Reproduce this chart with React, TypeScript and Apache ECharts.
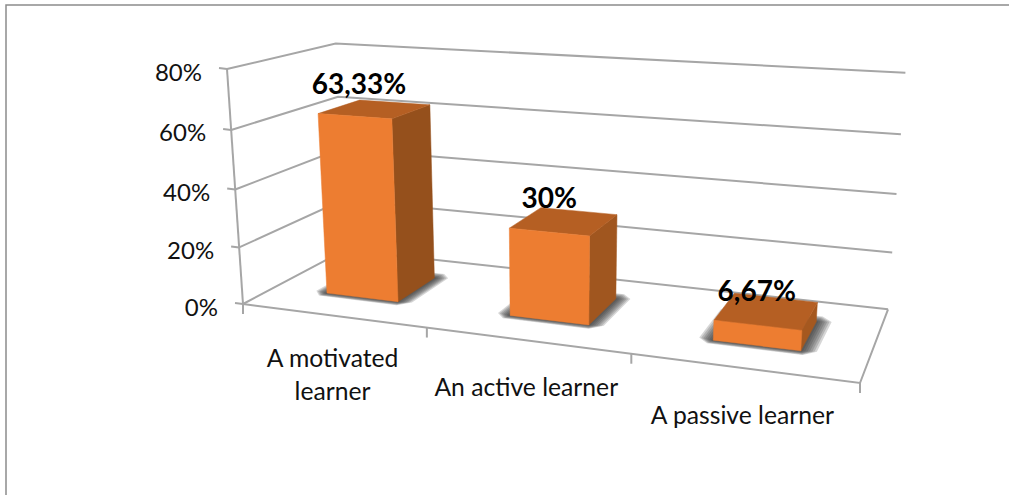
import React, { useEffect, useRef } from "react";
import * as echarts from "echarts";

const categories = ["A motivated\nlearner", "An active learner", "A passive learner"];
const shares = [63.33, 30, 6.67];
const shareLabels = ["63,33%", "30%", "6,67%"];
const axisTicks = [0, 20, 40, 60, 80];
const axisTickLabels = ["0%", "20%", "40%", "60%", "80%"];

type Pt = [number, number];
type Vec3 = [number, number, number];

// Image of the unit box's corners, with per-axis foreshortening weights.
const ORIGIN: Pt = [243, 304];
const END_X: Pt = [860, 383];
const END_DEPTH: Pt = [345, 250];
const END_HEIGHT: Pt = [227, 69];
const WEIGHT_X = 0.849;
const WEIGHT_DEPTH = 1.144;
const WEIGHT_HEIGHT = 0.951;

const COLUMN_DEPTH_FRONT = 0.29;
const COLUMN_DEPTH_BACK = 0.7;

const FONT = "Lato, Carlito, sans-serif";
const GRID_COLOR = "#a6a6a6";
const TEXT_COLOR = "#111111";
const FRONT_COLOR = "#ed7d31";
const TOP_COLOR = "#b55f23";
const SIDE_COLORS = ["#95501c", "#a0561f", "#a5581f"];
const CAPTION_NUDGE: Pt[] = [[-16, -26], [-15, -24], [-10, -21]];

// Projects box coordinates (all 0..1) onto the page through a projective camera.
function project(u: number, v: number, w: number): Pt {
  const col = (p: Pt, k: number): Vec3 => [k * p[0] - ORIGIN[0], k * p[1] - ORIGIN[1], k - 1];
  const cx = col(END_X, WEIGHT_X);
  const cy = col(END_DEPTH, WEIGHT_DEPTH);
  const cz = col(END_HEIGHT, WEIGHT_HEIGHT);
  const X = u * cx[0] + v * cy[0] + w * cz[0] + ORIGIN[0];
  const Y = u * cx[1] + v * cy[1] + w * cz[1] + ORIGIN[1];
  const W = u * cx[2] + v * cy[2] + w * cz[2] + 1;
  return [X / W, Y / W];
}

const line = (points: Pt[], width = 2) => ({
  type: "polyline",
  shape: { points },
  style: { stroke: GRID_COLOR, fill: "none", lineWidth: width },
});

const poly = (points: Pt[], fill: string) => ({
  type: "polygon",
  shape: { points },
  style: { fill, stroke: fill, lineWidth: 0.5 },
});

const label = (text: string, at: Pt, align: string, fontSize: number, fontWeight: string | number = 400) => ({
  type: "text",
  style: {
    text,
    x: at[0],
    y: at[1],
    align,
    verticalAlign: "middle",
    fontFamily: FONT,
    fontSize,
    fontWeight,
    lineHeight: 33,
    fill: fontWeight === 400 ? TEXT_COLOR : "#000000",
  },
});

export default function App() {
  const ref = useRef<HTMLDivElement>(null);

  useEffect(() => {
    document.body.style.margin = "0";
    const chart = echarts.init(ref.current!, null, { renderer: "svg" });

    const heightOf = (api: any, params: any, value: number) => {
      const box = params.coordSys;
      return (box.y + box.height - api.coord([0, value])[1]) / box.height;
    };
    const alongOf = (api: any, params: any, index: number) => {
      const box = params.coordSys;
      return (api.coord([index, 0])[0] - box.x) / box.width;
    };

    chart.setOption({
      animation: false,
      backgroundColor: "#ffffff",
      graphic: [
        {
          type: "polyline",
          shape: { points: [[6, 495], [6, 5], [1009, 5]] },
          style: { stroke: "#8c8c8c", fill: "none", lineWidth: 1.5 },
          silent: true,
        },
      ],
      grid: { left: 0, right: 0, top: 0, bottom: 0 },
      xAxis: { type: "category", data: categories, show: false },
      yAxis: { type: "value", min: 0, max: 80, interval: 20, show: false },
      series: [
        {
          // Walls, floor outline, axis lines, ticks and their labels.
          type: "custom",
          silent: true,
          data: axisTicks.map((t, i) => [i, t]),
          encode: { x: -1, y: 1 },
          renderItem: (params: any, api: any) => {
            const i = api.value(0);
            const w = heightOf(api, params, api.value(1));
            const children: any[] = [
              line([project(0, 0, w), project(0, 1, w), project(1, 1, w)]),
            ];
            const a = project(0, 0, w);
            children.push(line([[a[0] - 8, a[1] - 1], a]));
            children.push(label(axisTickLabels[i], [a[0] - 25, a[1] + 2], "right", 24));
            if (i === 0) {
              children.push(line([project(0, 0, 0), project(1, 0, 0), project(1, 1, 0)]));
              children.push(line([project(0, 0, 0), project(0, 0, 1)]));
              categories.forEach((_, c) => {
                const edge = project(c / categories.length, 0, 0);
                children.push(line([edge, [edge[0], edge[1] + 10]]));
              });
              const last = project(1, 0, 0);
              children.push(line([last, [last[0], last[1] + 10]]));
            }
            return { type: "group", children };
          },
        },
        {
          // Category captions along the front edge of the floor.
          type: "custom",
          silent: true,
          data: categories.map((_, i) => [i, 0]),
          renderItem: (params: any, api: any) => {
            const i = api.value(0);
            const edge = project(alongOf(api, params, i), 0, 0);
            const lines = categories[i].split("\n").length;
            return label(categories[i], [edge[0], edge[1] + 46.5 + (lines - 1) * 12], "center", 24.7);
          },
        },
        {
          // Columns: soft floor shadow, then the visible faces, then the value caption.
          type: "custom",
          silent: true,
          data: shares.map((v, i) => [i, v]),
          renderItem: (params: any, api: any) => {
            const i = api.value(0);
            const box = params.coordSys;
            const u = alongOf(api, params, i);
            const half = (api.size([1, 0])[0] * 0.4) / 2 / box.width;
            const h = heightOf(api, params, api.value(1));
            const [u0, u1] = [u - half, u + half];
            const [v0, v1] = [COLUMN_DEPTH_FRONT, COLUMN_DEPTH_BACK];
            const topCentre = project(u, (v0 + v1) / 2, h);
            const shadow: any[] = [];
            // Stacked translucent footprints with cut corners give the blurred edge.
            for (let s = 7; s >= 1; s--) {
              const [l, r] = [u0 - s * 0.0033, u1 + s * 0.0033];
              const [f, b] = [v0 - s * 0.007, v1 + s * 0.012];
              const [cu, cv] = [s * 0.0025, s * 0.009];
              shadow.push({
                type: "polygon",
                shape: {
                  points: [
                    project(l + cu, f, 0),
                    project(r - cu, f, 0),
                    project(r, f + cv, 0),
                    project(r, b - cv, 0),
                    project(r - cu, b, 0),
                    project(l + cu, b, 0),
                    project(l, b - cv, 0),
                    project(l, f + cv, 0),
                  ],
                },
                style: { fill: "#333333", opacity: 0.2 },
              });
            }
            return {
              type: "group",
              children: [
                ...shadow,
                poly([project(u1, v0, 0), project(u1, v1, 0), project(u1, v1, h), project(u1, v0, h)], SIDE_COLORS[i]),
                poly([project(u0, v0, h), project(u1, v0, h), project(u1, v1, h), project(u0, v1, h)], TOP_COLOR),
                poly([project(u0, v0, 0), project(u1, v0, 0), project(u1, v0, h), project(u0, v0, h)], FRONT_COLOR),
                label(
                  shareLabels[i],
                  [topCentre[0] + CAPTION_NUDGE[i][0], topCentre[1] + CAPTION_NUDGE[i][1]],
                  "center",
                  28,
                  700,
                ),
              ],
            };
          },
        },
      ],
    });

    return () => chart.dispose();
  }, []);

  return <div ref={ref} style={{ width: 1009, height: 495, position: "absolute", left: 0, top: 0 }} />;
}
